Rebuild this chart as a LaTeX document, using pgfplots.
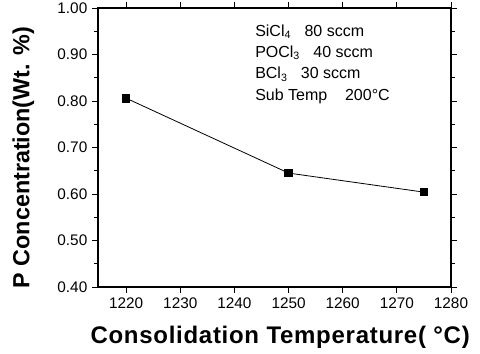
\documentclass[border=0pt]{standalone}
\usepackage{fontspec}
\setmainfont{Liberation Sans}
\newfontfamily\xlabfont[LetterSpace=3]{Liberation Sans}
\usepackage{pgfplots}
\pgfplotsset{compat=1.18}
\begin{document}
\begin{tikzpicture}
\path[use as bounding box] (-73.5pt,-50.25pt) rectangle (286.5pt,215.25pt);
\begin{axis}[
  at={(0pt,0pt)}, anchor=south west,
  scale only axis, width=264.75pt, height=209.25pt,
  xmin=1214.8, xmax=1280, ymin=0.40, ymax=1.00,
  xtick={1220,1230,...,1280},
  ytick={0.4,0.5,...,1.0},
  minor y tick num=1,
  xticklabel style={/pgf/number format/1000 sep={}},
  yticklabel style={/pgf/number format/fixed,/pgf/number format/fixed zerofill,/pgf/number format/precision=2},
  /pgf/number format/assume math mode=true,
  ticklabel style={font=\fontsize{11.5}{13}\selectfont},
  tick style={black, line width=0.6pt},
  major tick length=4.5pt, minor tick length=3pt,
  tick align=outside,
  axis line style={line width=0.8pt},
  xlabel={\xlabfont\bfseries Consolidation Temperature( °C)},
  ylabel={P Concentration(Wt. \%)},
  xlabel style={font=\bfseries\fontsize{18}{20}\selectfont, at={(axis description cs:0.516,0)}, anchor=center, yshift=-38pt},
  ylabel style={font=\bfseries\fontsize{17.5}{19}\selectfont, at={(axis description cs:0,0.464)}, anchor=center, yshift=56pt},
  clip=false,
]
\addplot[black, line width=0.6pt, mark=square*, mark size=2.8pt] coordinates {
  (1220,0.806) (1250,0.645) (1275,0.604)
};
\node[anchor=north west, align=left, font=\fontsize{12}{16}\selectfont, inner sep=0pt]
  at (axis cs:1243.8,0.965) {SiCl\textsubscript{4}\ \ \ 80 sccm\\POCl\textsubscript{3}\ \ \ 40 sccm\\BCl\textsubscript{3}\ \ \ 30 sccm\\Sub\ Temp\ \ \ \ 200°C};
\end{axis}
\end{tikzpicture}
\end{document}
